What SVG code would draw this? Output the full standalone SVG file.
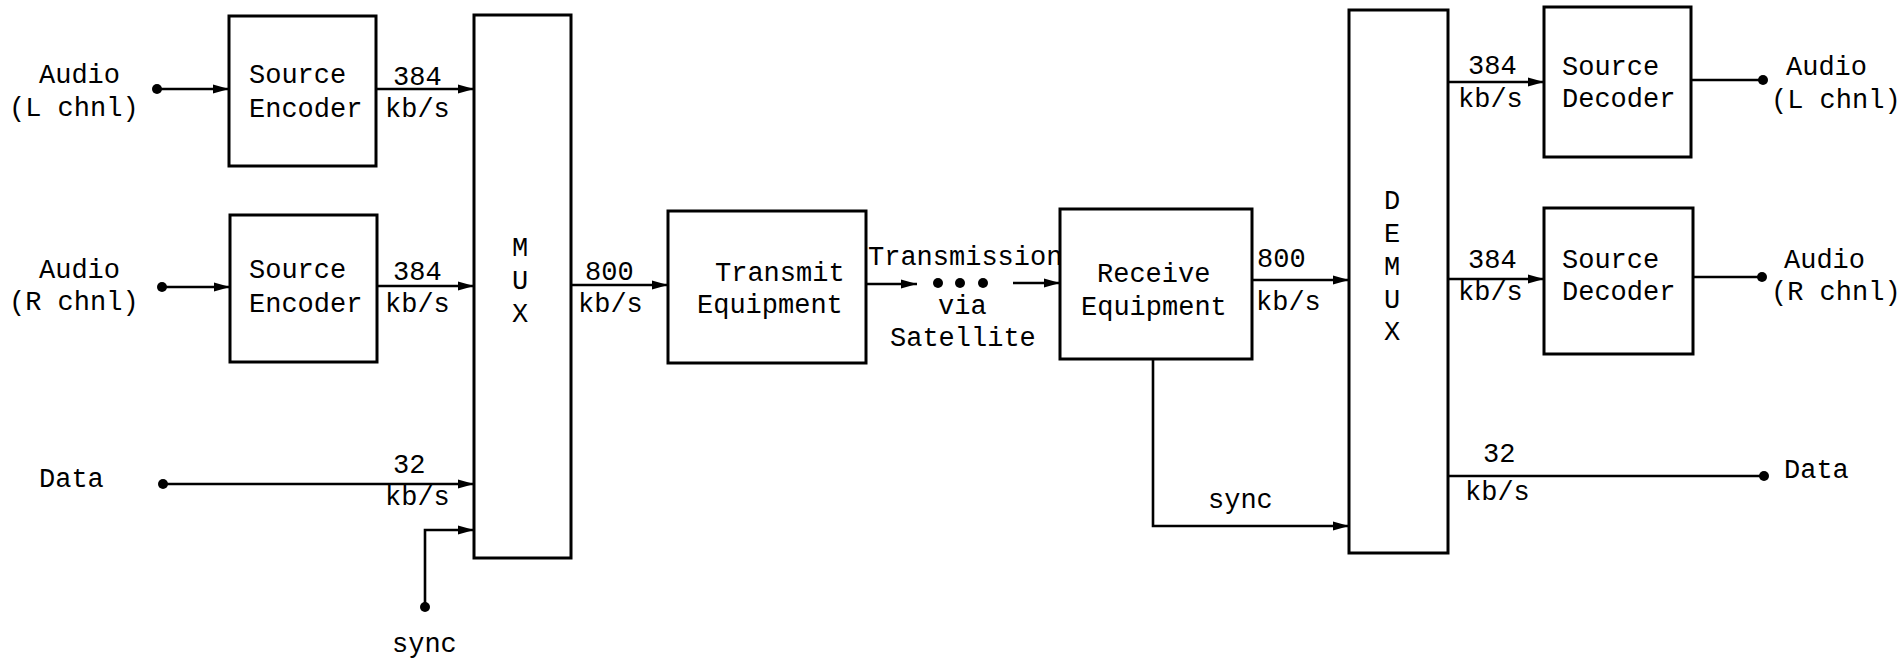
<svg xmlns="http://www.w3.org/2000/svg" width="1897" height="661" viewBox="0 0 1897 661">
<style>
.box{fill:#fff;stroke:#000;stroke-width:3}
.ln{fill:none;stroke:#000;stroke-width:2.6}
.t{font-family:"Liberation Mono","Courier New",monospace;font-size:27px;fill:#000}
.c{text-anchor:middle}
</style>
<defs>
<marker id="arr" markerUnits="userSpaceOnUse" markerWidth="18" markerHeight="12" refX="16" refY="6" orient="auto">
<path d="M0,1.5 L16,6 L0,10.5 Z" fill="#000"/>
</marker>
</defs>
<rect width="1897" height="661" fill="#fff"/>

<g id="connectors">
<path class="ln" d="M157,89 H229" marker-end="url(#arr)"/>
<path class="ln" d="M376,89 H474" marker-end="url(#arr)"/>
<path class="ln" d="M162,287 H230" marker-end="url(#arr)"/>
<path class="ln" d="M377,286 H474" marker-end="url(#arr)"/>
<path class="ln" d="M163,484 H474" marker-end="url(#arr)"/>
<path class="ln" d="M425,607 V530 H474" marker-end="url(#arr)"/>
<path class="ln" d="M571,285 H668" marker-end="url(#arr)"/>
<path class="ln" d="M866,284 H917" marker-end="url(#arr)"/>
<path class="ln" d="M1013,283 H1060" marker-end="url(#arr)"/>
<path class="ln" d="M1252,280 H1349" marker-end="url(#arr)"/>
<path class="ln" d="M1153,359 V526 H1349" marker-end="url(#arr)"/>
<path class="ln" d="M1448,82 H1544" marker-end="url(#arr)"/>
<path class="ln" d="M1448,279 H1544" marker-end="url(#arr)"/>
<path class="ln" d="M1691,80 H1763"/>
<path class="ln" d="M1693,277 H1762"/>
<path class="ln" d="M1449,476 H1764"/>
<g fill="#000">
<circle cx="157" cy="89" r="5"/>
<circle cx="162" cy="287" r="5"/>
<circle cx="163" cy="484" r="5"/>
<circle cx="425" cy="607" r="5"/>
<circle cx="938" cy="283" r="5"/>
<circle cx="960" cy="283" r="5"/>
<circle cx="983" cy="283" r="5"/>
<circle cx="1763" cy="80" r="5"/>
<circle cx="1762" cy="277" r="5"/>
<circle cx="1764" cy="476" r="5"/>
</g>
</g>

<g id="labels" class="t">
<text x="39" y="83">Audio</text>
<text x="9" y="116">(L chnl)</text>
<text x="39" y="278">Audio</text>
<text x="9" y="310">(R chnl)</text>
<text x="39" y="487">Data</text>
<text x="393" y="85">384</text>
<text x="385" y="117">kb/s</text>
<text x="393" y="280">384</text>
<text x="385" y="312">kb/s</text>
<text x="393" y="473">32</text>
<text x="385" y="505">kb/s</text>
<text x="392" y="652">sync</text>
<text x="585" y="280">800</text>
<text x="578" y="312">kb/s</text>
<text x="868" y="265">Transmission</text>
<text x="938" y="314">via</text>
<text x="890" y="346">Satellite</text>
<text x="1257" y="267">800</text>
<text x="1256" y="310">kb/s</text>
<text x="1208" y="508">sync</text>
<text x="1468" y="74">384</text>
<text x="1458" y="107">kb/s</text>
<text x="1468" y="268">384</text>
<text x="1458" y="300">kb/s</text>
<text x="1483" y="462">32</text>
<text x="1465" y="500">kb/s</text>
<text x="1786" y="75">Audio</text>
<text x="1771" y="108">(L chnl)</text>
<text x="1784" y="268">Audio</text>
<text x="1771" y="300">(R chnl)</text>
<text x="1784" y="478">Data</text>
</g>

<g id="enc1">
<rect class="box" x="229" y="16" width="147" height="150"/>
<text class="t" x="249" y="83">Source</text>
<text class="t" x="249" y="117">Encoder</text>
</g>
<g id="enc2">
<rect class="box" x="230" y="215" width="147" height="147"/>
<text class="t" x="249" y="278">Source</text>
<text class="t" x="249" y="312">Encoder</text>
</g>
<g id="mux">
<rect class="box" x="474" y="15" width="97" height="543"/>
<text class="t c" x="520" y="256">M</text>
<text class="t c" x="520" y="289">U</text>
<text class="t c" x="520" y="322">X</text>
</g>
<g id="transmit">
<rect class="box" x="668" y="211" width="198" height="152"/>
<text class="t" x="715" y="281">Transmit</text>
<text class="t" x="697" y="313">Equipment</text>
</g>
<g id="receive">
<rect class="box" x="1060" y="209" width="192" height="150"/>
<text class="t" x="1097" y="282">Receive</text>
<text class="t" x="1081" y="315">Equipment</text>
</g>
<g id="demux">
<rect class="box" x="1349" y="10" width="99" height="543"/>
<text class="t c" x="1392" y="209">D</text>
<text class="t c" x="1392" y="242">E</text>
<text class="t c" x="1392" y="275">M</text>
<text class="t c" x="1392" y="308">U</text>
<text class="t c" x="1392" y="340">X</text>
</g>
<g id="dec1">
<rect class="box" x="1544" y="7" width="147" height="150"/>
<text class="t" x="1562" y="75">Source</text>
<text class="t" x="1562" y="107">Decoder</text>
</g>
<g id="dec2">
<rect class="box" x="1544" y="208" width="149" height="146"/>
<text class="t" x="1562" y="268">Source</text>
<text class="t" x="1562" y="300">Decoder</text>
</g>
</svg>
